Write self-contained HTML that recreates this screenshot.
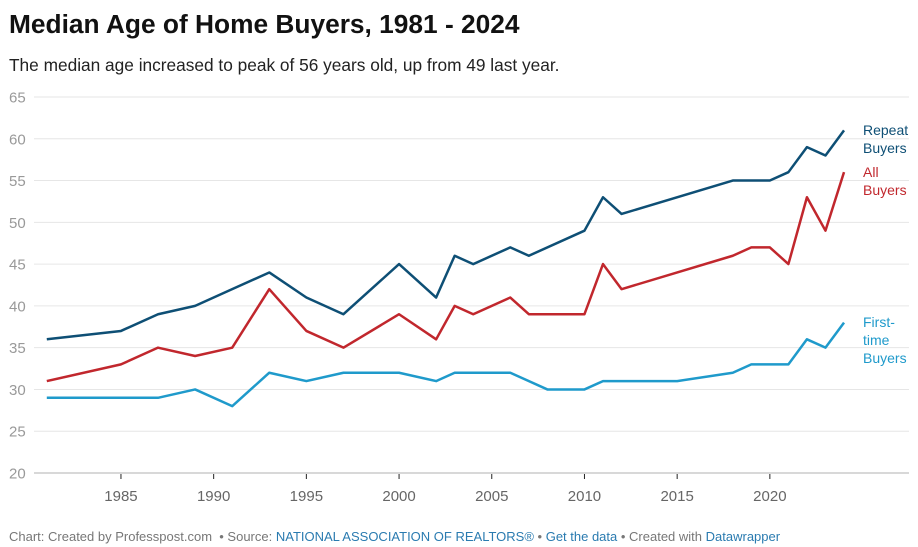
<!DOCTYPE html>
<html><head><meta charset="utf-8"><style>
body{margin:0;background:#fff;font-family:"Liberation Sans",sans-serif;}
#wrap{position:relative;width:918px;height:547px;overflow:hidden}
h1{position:absolute;left:9px;top:9px;margin:0;font-size:26.3px;font-weight:bold;color:#111}
#sub{position:absolute;left:9px;top:55px;font-size:17.3px;color:#222}
#foot{position:absolute;left:9px;top:529px;font-size:13px;color:#777}
#foot a{color:#2a7bb0;text-decoration:none}
</style></head><body>
<div id="wrap">
<h1>Median Age of Home Buyers, 1981 - 2024</h1>
<div id="sub">The median age increased to peak of 56 years old, up from 49 last year.</div>
<svg id="chart" width="918" height="547" style="position:absolute;left:0;top:0"></svg>
<div id="foot">Chart: Created by Professpost.com &nbsp;• Source: <a>NATIONAL ASSOCIATION OF REALTORS®</a> • <a>Get the data</a> • Created with <a>Datawrapper</a></div>
</div>
<script>
const yTicks=[20,25,30,35,40,45,50,55,60,65];
const xTicks=[1985,1990,1995,2000,2005,2010,2015,2020];
const repeatYears=[1981,1985,1987,1989,1991,1993,1995,1997,2000,2002,2003,2004,2006,2007,2010,2011,2012,2018,2020,2021,2022,2023,2024];
const repeatVals=[36,37,39,40,42,44,41,39,45,41,46,45,47,46,49,53,51,55,55,56,59,58,61];
const allYears=[1981,1985,1987,1989,1991,1993,1995,1997,2000,2002,2003,2004,2006,2007,2010,2011,2012,2018,2019,2020,2021,2022,2023,2024];
const allVals=[31,33,35,34,35,42,37,35,39,36,40,39,41,39,39,45,42,46,47,47,45,53,49,56];
const firstYears=[1981,1985,1987,1989,1991,1993,1995,1997,2000,2002,2003,2004,2006,2008,2010,2011,2015,2018,2019,2021,2022,2023,2024];
const firstVals=[29,29,29,30,28,32,31,32,32,31,32,32,32,30,30,31,31,32,33,33,36,35,38];
const NS="http://www.w3.org/2000/svg";
const svg=document.getElementById('chart');
const X=y=>46.8+(y-1981)*18.54;
const Y=v=>473-(v-20)*8.356;
function mk(t,a){const e=document.createElementNS(NS,t);for(const k in a)e.setAttribute(k,a[k]);svg.appendChild(e);return e;}
yTicks.forEach(v=>{
 const l=mk('line',{x1:34,x2:909,y1:Y(v),y2:Y(v),stroke:v===20?'#d8d8d8':'#e6e6e6','stroke-width':v===20?2:1});
 
 
 const t=mk('text',{x:9,y:Y(v)+5.5,'font-size':15,fill:'#999','font-family':'Liberation Sans'});
 t.textContent=v;
 
 
});
xTicks.forEach(yr=>{
 const k=mk('line',{x1:X(yr),x2:X(yr),y1:474,y2:479,stroke:'#222','stroke-width':1});
 
 
 const t=mk('text',{x:X(yr),y:501,'font-size':15,fill:'#666','text-anchor':'middle','font-family':'Liberation Sans'});
 t.textContent=yr;
 
 
});
function series(ys,vs,col,name,labels,ly){
 const p=mk('polyline',{points:ys.map((y,i)=>X(y)+','+Y(vs[i])).join(' '),fill:'none',stroke:col,'stroke-width':2.5,'stroke-linejoin':'round'});
 
 
 labels.forEach((s,i)=>{
  const t=mk('text',{x:863,y:ly+i*18,'font-size':14,fill:col,'font-family':'Liberation Sans'});
  t.textContent=s;
  
  
 });
}
series(firstYears,firstVals,'#1f9acb','first-time-buyers',['First-','time','Buyers'],327);
series(allYears,allVals,'#c1272d','all-buyers',['All','Buyers'],177);
series(repeatYears,repeatVals,'#0e4f75','repeat-buyers',['Repeat','Buyers'],135);
</script>
</body></html>
